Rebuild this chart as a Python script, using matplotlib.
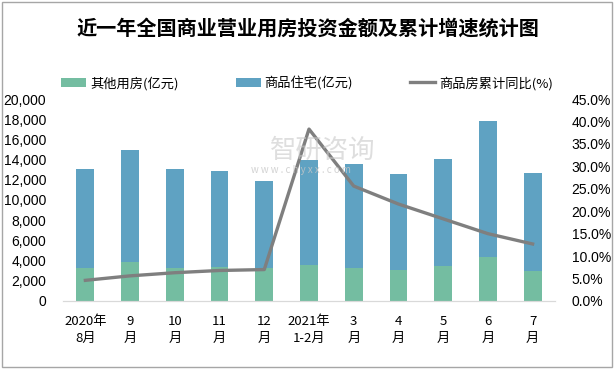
import matplotlib
matplotlib.use("Agg")
import matplotlib.pyplot as plt
from matplotlib.patches import Rectangle
from matplotlib.ticker import FuncFormatter, MultipleLocator
import numpy as np

plt.rcParams['font.family'] = ['Noto Sans CJK SC', 'DejaVu Sans']

title = "近一年全国商业营业用房投资金额及累计增速统计图"
categories = ["2020年\n8月", "9\n月", "10\n月", "11\n月", "12\n月", "2021年\n1-2月",
              "3\n月", "4\n月", "5\n月", "6\n月", "7\n月"]
other = [3250, 3850, 3250, 3370, 3250, 3560, 3240, 3040, 3440, 4360, 2970]
residential = [9850, 11100, 9850, 9500, 8630, 10370, 10320, 9530, 10620, 13460, 9700]
growth = [4.6, 5.6, 6.3, 6.8, 7.0, 38.3, 25.6, 21.6, 18.3, 15.0, 12.7]
labels = ["其他用房(亿元)", "商品住宅(亿元)", "商品房累计同比(%)"]

green = "#74BDA1"
blue = "#5FA2C2"
gray = "#7F7F7F"
num_font = ['Liberation Sans', 'Noto Sans CJK SC']

fig = plt.figure(figsize=(6.14, 3.69), dpi=100)
fig.patches.append(Rectangle((0.003, 0.005), 0.994, 0.99, transform=fig.transFigure,
                             fill=False, edgecolor="#A6A6A6", linewidth=1.0))
ax = fig.add_axes([0.1026, 0.1843, 0.8013, 0.5474])
ax2 = ax.twinx()

x = np.arange(len(categories))
w = 0.4
b1 = ax.bar(x, other, w, color=green, label=labels[0], zorder=2)
b2 = ax.bar(x, residential, w, bottom=other, color=blue, label=labels[1], zorder=2)
l1, = ax2.plot(x, growth, color=gray, linewidth=2.4, label=labels[2], zorder=3)

ax.set_xlim(-0.5, len(categories) - 0.5)
ax.set_ylim(0, 20000)
ax.yaxis.set_major_locator(MultipleLocator(2000))
ax.yaxis.set_major_formatter(FuncFormatter(lambda v, p: f"{int(v):,}"))
ax2.set_ylim(0, 45)
ax2.yaxis.set_major_locator(MultipleLocator(5))
ax2.yaxis.set_major_formatter(FuncFormatter(lambda v, p: f"{v:.1f}%"))

for a in (ax, ax2):
    for s in ("top", "left", "right"):
        a.spines[s].set_visible(False)
    a.spines["bottom"].set_color("#D9D9D9")
    a.tick_params(length=0, labelsize=10, colors="#000000")
for lab in ax.get_yticklabels() + ax2.get_yticklabels():
    lab.set_family(num_font)
ax.tick_params(axis='y', pad=12)
ax2.tick_params(axis='y', pad=12)

ax.set_xticks(x)
ax.set_xticklabels(categories, fontsize=9.5, linespacing=1.45)
ax.tick_params(axis='x', pad=10)

fig.text(0.502, 0.924, title, ha="center", va="center", fontsize=14.5, fontweight="bold")

fig.legend([b1, b2, l1], labels, loc="center", bbox_to_anchor=(0.5, 0.775), ncol=3,
           frameon=False, fontsize=9.5, handlelength=1.9, handleheight=0.7,
           columnspacing=4.3, handletextpad=0.3)

fig.text(0.525, 0.593, "智研咨询", fontsize=19, color="#C8C8C8", alpha=0.6, ha="center", va="center")
fig.text(0.49, 0.539, "w w w . c h y x x . c o m", fontsize=7, color="#C8C8C8", alpha=0.8, ha="center", va="center")

fig.savefig("out.png", dpi=100)
